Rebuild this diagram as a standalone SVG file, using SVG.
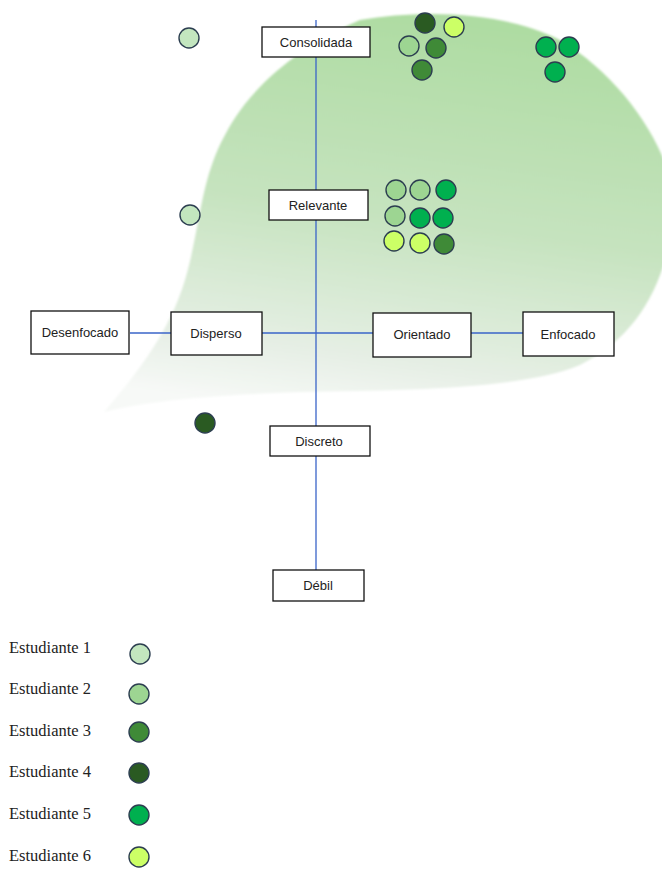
<svg xmlns="http://www.w3.org/2000/svg" width="662" height="869" viewBox="0 0 662 869">
  <style>
    .box rect { fill: #ffffff; stroke: #111111; stroke-width: 1.3; }
    .box text { font-family: "Liberation Sans", Arial, sans-serif; font-size: 13px; fill: #222222; text-anchor: middle; }
    .axis { stroke: #3a64c8; stroke-width: 1.3; fill: none; }
    .dot { stroke: #2c3e50; stroke-width: 1.4; }
    .s1 { fill: #c3e6bf; }
    .s2 { fill: #9dd592; }
    .s3 { fill: #3f8a37; }
    .s4 { fill: #2a5a22; }
    .s5 { fill: #00b04f; }
    .s6 { fill: #ccff66; }
    .legend text { font-family: "Liberation Serif", "Times New Roman", serif; font-size: 16.5px; fill: #222222; }
  </style>
  <defs>
    <linearGradient id="blobFill" x1="0.55" y1="0" x2="0.35" y2="1">
      <stop offset="0" stop-color="#aedca2"/>
      <stop offset="0.5" stop-color="#c6e3bf"/>
      <stop offset="0.85" stop-color="#e6efe5"/>
      <stop offset="1" stop-color="#f7f9f7"/>
    </linearGradient>
    <filter id="soft" x="-5%" y="-5%" width="110%" height="110%">
      <feGaussianBlur stdDeviation="1.2"/>
    </filter>
  </defs>

  <!-- background area -->
  <path id="area" filter="url(#soft)" fill="url(#blobFill)"
        d="M 360 20 C 420 10, 500 10, 560 40 C 610 70, 650 120, 668 170
           L 668 250 C 655 300, 630 340, 580 365 C 520 390, 400 390, 300 392
           C 220 395, 150 400, 104 412 C 140 370, 170 330, 185 280
           C 200 230, 200 180, 225 135 C 245 95, 290 50, 360 20 Z"/>

  <!-- connectors -->
  <g id="connectors">
    <line class="axis" x1="316" y1="20" x2="316" y2="571"/>
    <line class="axis" x1="130" y1="333" x2="523" y2="333"/>
  </g>

  <!-- nodes -->
  <g id="consolidada" class="box"><rect x="262" y="27" width="108" height="30"/><text x="316" y="47">Consolidada</text></g>
  <g id="relevante" class="box"><rect x="269" y="190" width="99" height="30"/><text x="318" y="210">Relevante</text></g>
  <g id="desenfocado" class="box"><rect x="31" y="311" width="98" height="43"/><text x="80" y="337">Desenfocado</text></g>
  <g id="disperso" class="box"><rect x="171" y="312" width="91" height="43"/><text x="216" y="338">Disperso</text></g>
  <g id="orientado" class="box"><rect x="373" y="313" width="98" height="44"/><text x="422" y="339">Orientado</text></g>
  <g id="enfocado" class="box"><rect x="523" y="312" width="91" height="44"/><text x="568" y="339">Enfocado</text></g>
  <g id="discreto" class="box"><rect x="270" y="426" width="100" height="30"/><text x="319" y="446">Discreto</text></g>
  <g id="debil" class="box"><rect x="273" y="570" width="91" height="31"/><text x="318" y="590">Débil</text></g>

  <!-- student markers -->
  <g id="markers">
    <circle class="dot s1" cx="189" cy="38" r="10"/>
    <circle class="dot s1" cx="190" cy="215" r="10"/>
    <circle class="dot s4" cx="205" cy="423" r="10"/>

    <circle class="dot s4" cx="425" cy="23" r="10"/>
    <circle class="dot s6" cx="454" cy="27" r="10"/>
    <circle class="dot s2" cx="409" cy="46" r="10"/>
    <circle class="dot s3" cx="436" cy="48" r="10"/>
    <circle class="dot s3" cx="422" cy="70" r="10"/>

    <circle class="dot s5" cx="546" cy="47" r="10"/>
    <circle class="dot s5" cx="569" cy="47" r="10"/>
    <circle class="dot s5" cx="555" cy="72" r="10"/>

    <circle class="dot s2" cx="396" cy="190" r="10"/>
    <circle class="dot s2" cx="420" cy="190" r="10"/>
    <circle class="dot s5" cx="446" cy="190" r="10"/>
    <circle class="dot s2" cx="395" cy="216" r="10"/>
    <circle class="dot s5" cx="420" cy="218" r="10"/>
    <circle class="dot s5" cx="443" cy="218" r="10"/>
    <circle class="dot s6" cx="394" cy="241" r="10"/>
    <circle class="dot s6" cx="420" cy="243" r="10"/>
    <circle class="dot s3" cx="444" cy="244" r="10"/>
  </g>

  <!-- legend -->
  <g id="legend" class="legend">
    <text x="9" y="653">Estudiante 1</text><circle class="dot s1" cx="140" cy="654" r="10"/>
    <text x="9" y="694">Estudiante 2</text><circle class="dot s2" cx="139" cy="694" r="10"/>
    <text x="9" y="736">Estudiante 3</text><circle class="dot s3" cx="139" cy="732" r="10"/>
    <text x="9" y="777">Estudiante 4</text><circle class="dot s4" cx="139" cy="773" r="10"/>
    <text x="9" y="819">Estudiante 5</text><circle class="dot s5" cx="139" cy="815" r="10"/>
    <text x="9" y="861">Estudiante 6</text><circle class="dot s6" cx="139" cy="857" r="10"/>
  </g>
</svg>
